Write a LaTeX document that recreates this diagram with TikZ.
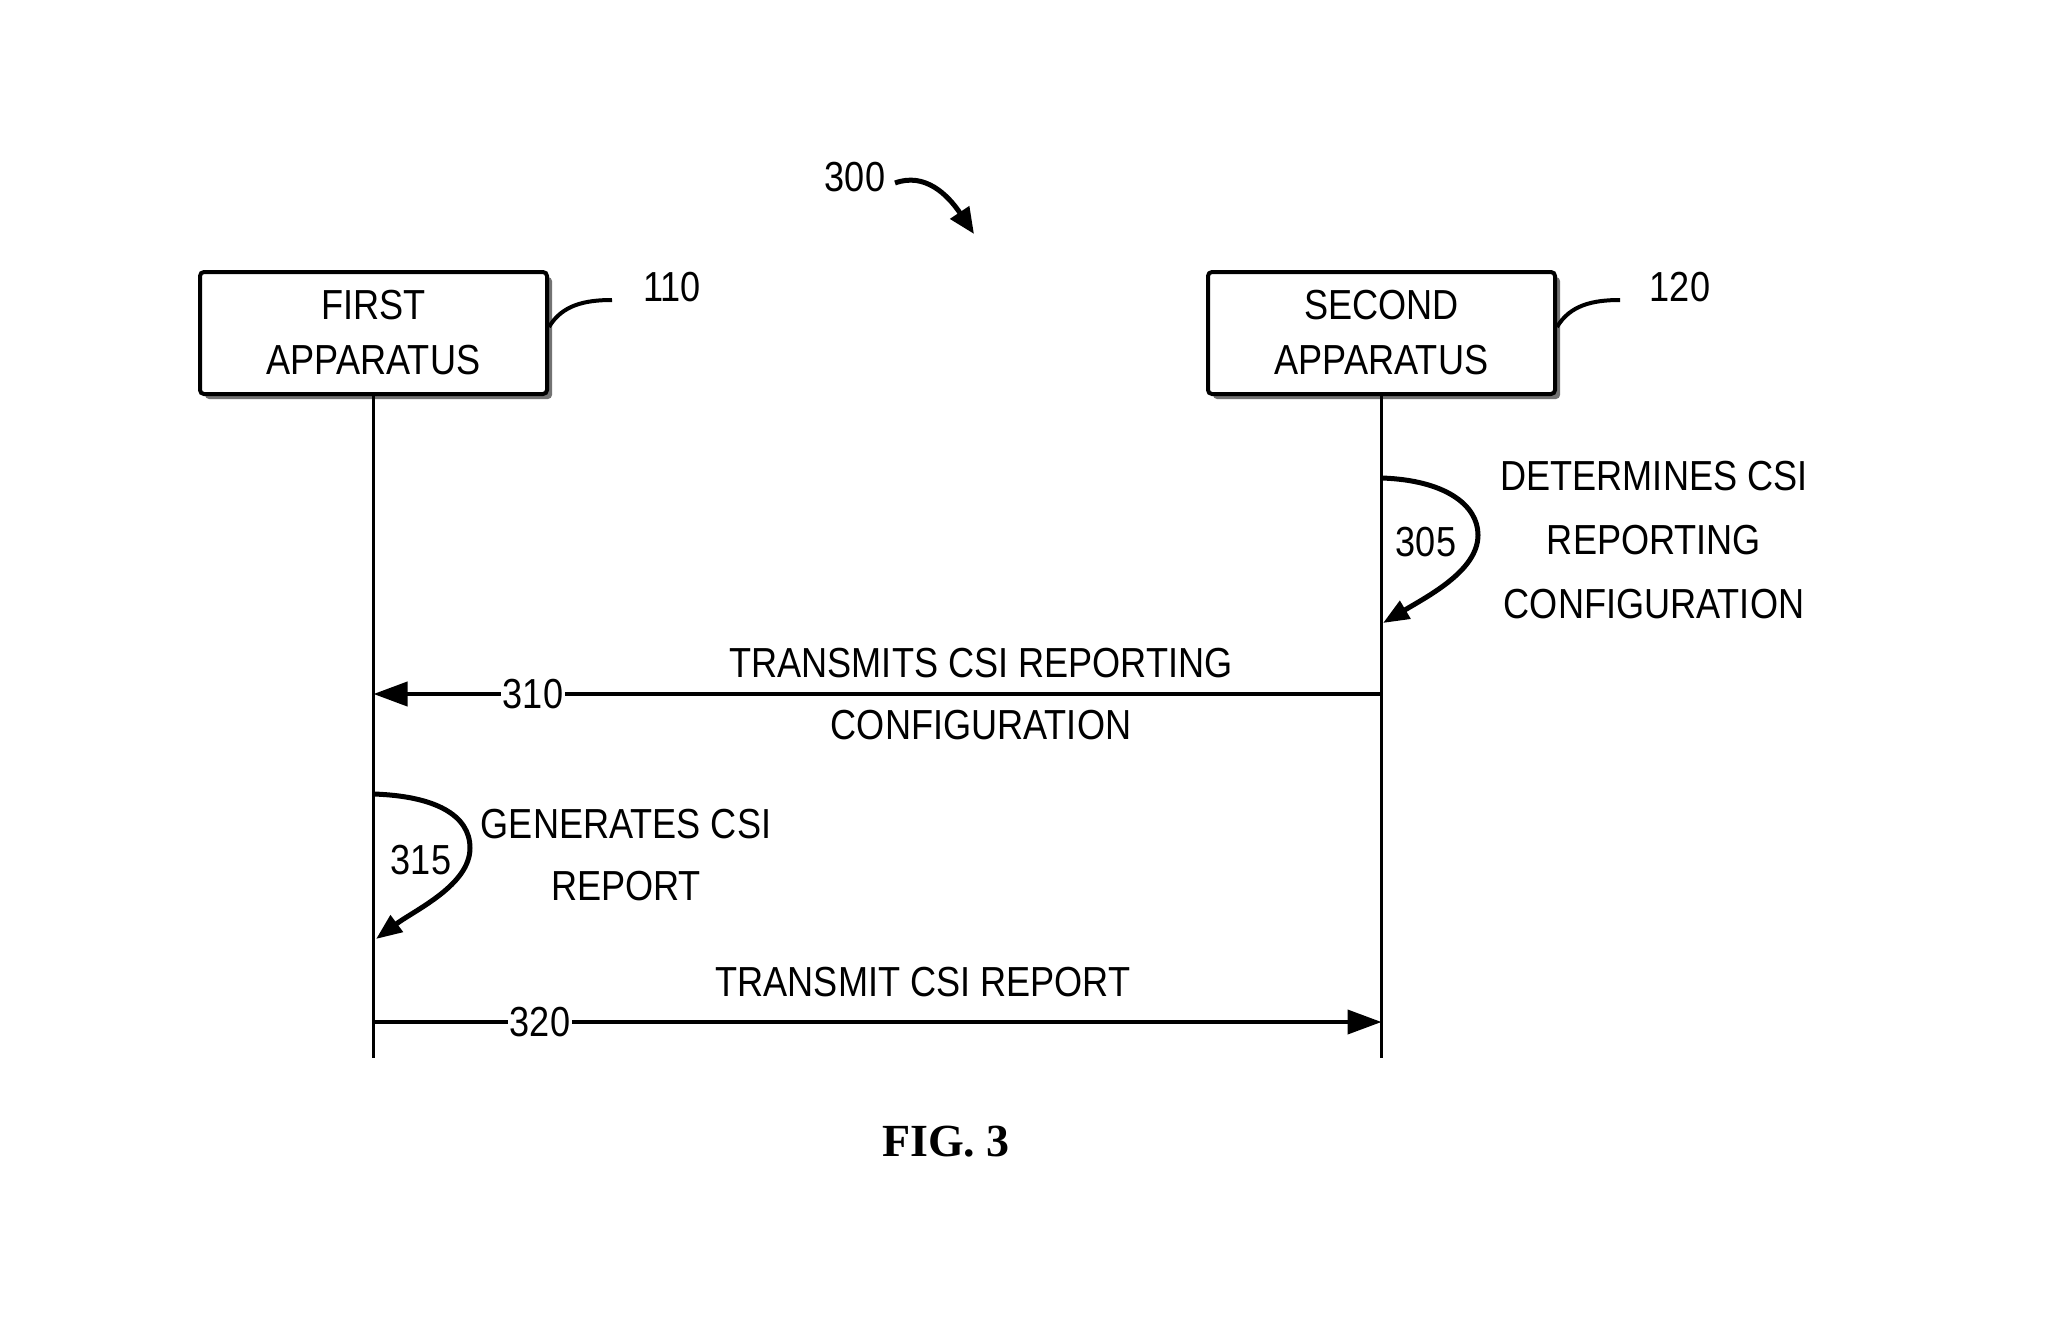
\documentclass[tikz,border=0pt]{standalone}
\usepackage{fontspec}
\setmainfont{Liberation Sans}[FakeStretch=0.86]
\newfontfamily\figfont{Liberation Serif}
\usetikzlibrary{arrows.meta,shadows}
\begin{document}
\begin{tikzpicture}[x=0.5pt,y=-0.5pt,
  every node/.style={inner sep=0pt,outer sep=0pt},
  txt/.style={font=\fontsize{21pt}{31pt}\selectfont,align=center},
  apparatus/.style={draw,line width=2pt,rounded corners=2pt,fill=white,
     minimum width=173.5pt,minimum height=61pt,align=center,
     font=\fontsize{21pt}{27.5pt}\selectfont,
     drop shadow={shadow xshift=2.5pt,shadow yshift=-2.5pt,fill=black!55,opacity=1}},
  lifeline/.style={line width=1.6pt},
  msg/.style={line width=2pt,-{Triangle[length=17pt,width=12pt]}},
  selfloop/.style={line width=2.5pt,-{Triangle[length=13pt,width=10pt]}},
  leader/.style={line width=2pt},
  numlbl/.style={font=\fontsize{21pt}{25pt}\selectfont,fill=white,inner xsep=1pt,inner ysep=2pt}
]
\useasboundingbox (0,0) rectangle (2060,1333);

% apparatus boxes
\node[apparatus] (b1) at (373.5,333) {FIRST\\APPARATUS};
\node[apparatus] (b2) at (1381.5,333) {SECOND\\APPARATUS};

% reference numerals
\node[txt] (n110) at (672,287) {110};
\node[txt] (n120) at (1680,287) {120};
\coordinate (l110a) at (549,327);
\coordinate (l110b) at (612,300);
\coordinate (l120a) at (1557,327);
\coordinate (l120b) at (1620,300);
\draw[leader] (l110a) .. controls (562,305) and (585,300) .. (l110b);
\draw[leader] (l120a) .. controls (1570,305) and (1593,300) .. (l120b);

% 300
\node[txt] (n300) at (855,177) {300};
\coordinate (a300s) at (895,183);
\coordinate (a300e) at (974,234);
\draw[line width=2.5pt,-{Triangle[length=13pt,width=11pt]}] (a300s) .. controls (925,172) and (948,195) .. (a300e);

% lifelines
\coordinate (e1) at (373.5,1058);
\coordinate (e2) at (1381.5,1058);
\draw[lifeline] (b1.south) -- (e1);
\draw[lifeline] (b2.south) -- (e2);

% 305 self loop
\coordinate (s305) at (1381.5,478);
\coordinate (t305) at (1383,623);
\draw[selfloop] (s305) .. controls (1445,480) and (1478,505) .. (1478,535)
   .. controls (1478,570) and (1430,595) .. (t305);
\node[txt] (n305) at (1426,542) {305};
\node[txt,font=\fontsize{21pt}{32pt}\selectfont] (d305) at (1654,540) {DETERMINES CSI\\REPORTING\\CONFIGURATION};

% 310 message
\coordinate (s310) at (1381.5,694);
\coordinate (t310) at (373.5,694);
\draw[msg] (s310) -- (t310);
\node[numlbl] (n310) at (533,694) {310};
\node[txt] (d310) at (981,694) {TRANSMITS CSI REPORTING\\CONFIGURATION};

% 315 self loop
\coordinate (s315) at (373.5,794);
\coordinate (t315) at (376,939);
\draw[selfloop] (s315) .. controls (435,796) and (470,815) .. (470,848)
   .. controls (470,885) and (415,910) .. (t315);
\node[txt] (n315) at (421,860) {315};
\node[txt,font=\fontsize{21pt}{31pt}\selectfont] (d315) at (626,855) {GENERATES CSI\\REPORT};

% 320 message
\coordinate (s320) at (373.5,1022);
\coordinate (t320) at (1381.5,1022);
\draw[msg] (s320) -- (t320);
\node[numlbl] (n320) at (540,1022) {320};
\node[txt] (d320) at (923,982) {TRANSMIT CSI REPORT};

% caption
\node[font=\figfont\bfseries\fontsize{23pt}{27pt}\selectfont] (fig) at (946,1142) {FIG. 3};
\end{tikzpicture}
\end{document}
